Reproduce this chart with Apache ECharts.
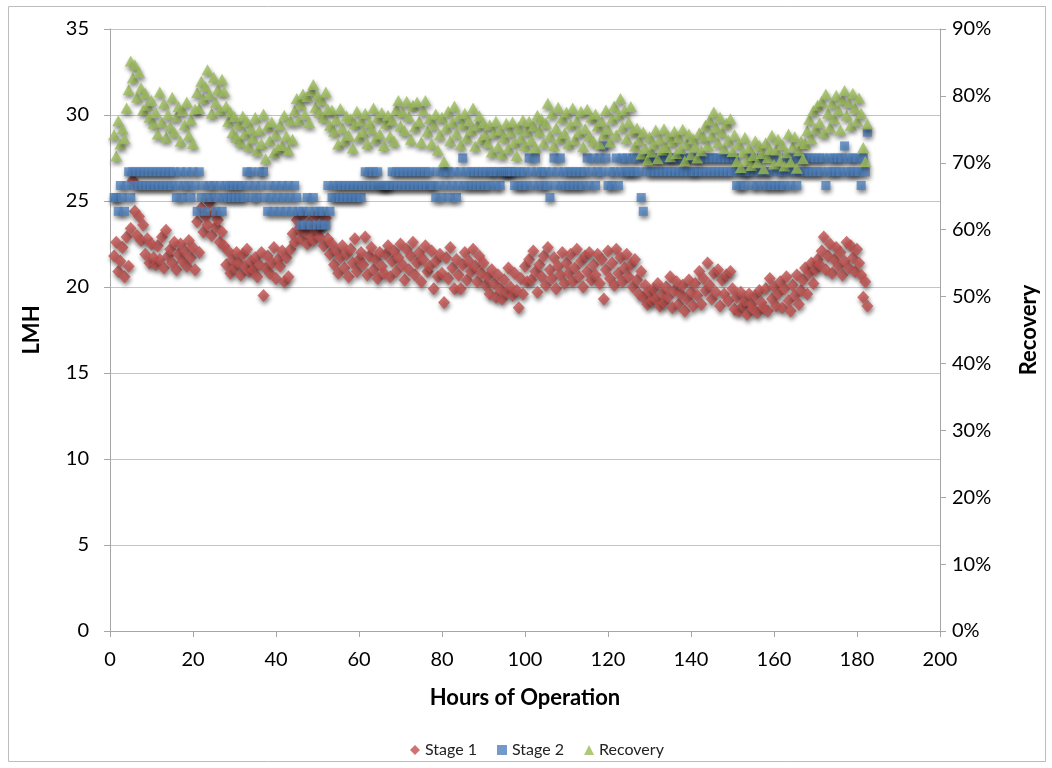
<!DOCTYPE html>
<html>
<head>
<meta charset="utf-8">
<script src="https://cdn.jsdelivr.net/npm/echarts@6/dist/echarts.min.js"></script>
<style>
html,body{margin:0;padding:0;background:#fff;}
#c{width:1052px;height:768px;}
</style>
</head>
<body>
<div id="c"></div>
<script>
// Sampling grid: readings every half hour starting at hour 1
const hourStart = 1;
const hourStep = 0.5;

// Stage 1 flux (LMH)
const stage1 = [
  21.8,22.6,20.9,21.5,22.3,20.6,22.9,21.2,23.4,26.2,24.4,23.0,24.1,22.7,23.6,21.9,22.8,21.4,22.5,21.7,
  21.3,22.4,21.6,22.9,21.1,23.3,21.8,22.2,21.4,22.6,21.0,21.9,22.5,21.5,22.1,21.2,22.7,21.7,22.3,21.0,
  23.8,22.0,24.6,23.2,24.1,23.6,24.9,23.0,24.3,23.5,23.9,22.6,23.2,22.4,21.3,22.1,20.8,21.6,21.1,22.0,
  21.4,20.7,21.9,21.2,22.2,20.9,21.5,21.0,21.7,20.6,21.3,22.0,19.5,21.1,21.8,20.8,21.4,22.3,20.5,21.6,
  21.2,22.1,20.3,21.7,20.6,22.2,23.1,22.6,23.9,23.4,22.8,24.2,23.2,22.5,23.7,23.0,22.7,24.1,23.3,22.9,
  23.6,22.4,24.0,22.8,21.9,22.5,21.3,22.1,20.8,21.7,22.4,21.1,21.9,20.6,22.2,21.4,22.8,20.9,21.6,22.0,
  21.3,22.9,20.7,21.8,22.3,21.0,21.6,20.5,22.0,21.2,20.8,21.9,22.4,20.6,21.5,22.1,20.9,21.7,22.5,21.3,
  20.4,22.2,21.0,21.8,22.6,20.7,21.4,22.0,20.3,21.6,22.4,20.9,21.2,22.1,19.9,21.5,20.6,21.9,20.8,19.1,
  21.7,20.5,22.3,21.1,19.9,21.6,20.7,19.9,21.3,22.0,20.4,21.5,20.9,22.2,21.2,20.3,21.8,20.8,21.4,20.1,
  20.6,19.6,21.0,20.2,19.4,20.7,19.9,19.3,20.4,19.7,21.1,20.0,19.5,20.8,19.8,18.8,20.5,19.6,21.2,20.3,
  21.6,20.4,22.1,20.9,19.7,21.3,20.6,21.8,20.1,22.3,21.0,20.5,21.7,19.9,21.2,20.7,22.0,20.2,21.4,20.8,
  21.9,20.3,21.1,22.2,20.6,21.5,20.0,21.8,20.9,22.0,20.4,21.3,20.7,21.9,20.2,21.6,19.3,21.0,22.1,20.5,
  21.4,20.1,22.2,20.8,21.7,20.3,21.1,21.9,20.6,21.3,20.0,21.6,20.4,19.6,20.9,19.4,20.1,19.0,19.7,19.2,
  19.9,19.3,20.2,18.9,19.6,19.1,20.0,19.4,20.6,18.8,19.8,20.3,19.0,19.6,20.1,18.6,19.3,20.4,19.7,18.9,
  20.2,19.5,20.9,19.0,20.5,19.8,21.4,20.1,19.3,20.8,19.7,21.0,18.9,20.4,19.6,20.7,19.2,20.9,19.9,18.7,
  19.4,18.6,19.7,18.9,19.2,18.4,19.6,19.0,18.7,19.5,18.5,19.8,19.1,18.8,19.9,18.6,20.5,19.3,20.0,18.9,
  19.6,20.3,18.8,19.9,20.6,19.2,18.6,20.1,19.5,20.7,19.0,19.8,20.4,21.1,19.6,20.8,21.4,20.2,21.0,21.6,
  21.3,22.1,22.9,21.0,21.8,22.5,20.8,21.6,22.3,21.2,22.0,20.7,21.5,22.6,21.1,22.4,21.7,20.9,22.2,21.4,
  20.7,19.4,20.3,18.9
];

// Stage 2 flux (LMH)
const stage2 = [
  25.2,25.2,24.4,25.9,25.2,24.4,25.9,26.7,25.2,26.7,25.9,26.7,25.9,26.7,25.9,26.7,25.9,26.7,25.9,26.7,
  25.9,26.7,25.9,26.7,25.9,26.7,25.9,26.7,25.9,26.7,25.2,25.9,26.7,25.2,25.9,26.7,25.9,25.2,26.7,25.9,
  24.4,26.7,25.2,25.9,24.4,25.2,25.9,25.2,25.9,24.4,25.2,25.9,24.4,25.2,25.9,25.2,25.9,25.2,25.9,25.2,
  25.9,25.2,25.9,25.2,26.7,25.9,26.7,25.2,25.9,25.2,26.7,25.9,26.7,25.2,24.4,25.9,25.2,24.4,25.9,25.2,
  24.4,25.9,25.2,24.4,25.9,25.2,24.4,25.9,25.2,24.4,23.6,24.4,23.6,25.2,24.4,23.6,25.2,24.4,23.6,24.4,
  23.6,24.4,23.6,25.9,24.4,25.2,25.9,25.2,25.9,25.2,25.9,25.2,25.9,25.2,25.9,25.2,25.9,25.2,25.9,25.2,
  25.9,26.7,25.9,26.7,25.9,26.7,25.9,26.7,25.9,25.9,25.9,25.9,25.9,25.9,26.7,25.9,26.7,25.9,26.7,25.9,
  26.7,25.9,26.7,25.9,26.7,25.9,26.7,25.9,26.7,25.9,26.7,25.9,26.7,25.9,25.9,25.2,26.7,25.9,25.2,26.7,
  25.9,26.7,25.2,25.9,26.7,25.2,25.9,26.7,27.5,25.9,26.7,25.9,26.7,25.9,26.7,25.9,26.7,25.9,26.7,25.9,
  26.7,25.9,26.7,26.7,25.9,26.7,25.9,26.7,26.7,26.7,26.7,26.7,26.7,25.9,26.7,25.9,26.7,25.9,26.7,25.9,
  27.5,26.7,25.9,27.5,26.7,25.9,26.7,25.9,26.7,25.9,25.2,26.7,27.5,25.9,26.7,27.5,25.9,26.7,25.9,26.7,
  25.9,26.7,25.9,26.7,25.9,26.7,25.9,26.7,27.5,25.9,26.7,27.5,25.9,26.7,27.5,26.7,28.2,27.5,25.9,26.7,
  25.9,26.7,27.5,25.9,26.7,27.5,26.7,27.5,26.7,26.7,27.5,26.7,27.5,26.7,25.2,24.4,27.5,26.7,27.5,26.7,
  27.5,26.7,27.5,26.7,27.5,26.7,27.5,26.7,27.5,26.7,27.5,26.7,27.5,26.7,27.5,26.7,27.5,26.7,27.5,26.7,
  26.7,27.5,26.7,27.5,26.7,27.5,26.7,27.5,26.7,27.5,26.7,27.5,26.7,27.5,26.7,27.5,26.7,27.5,26.7,27.5,
  25.9,26.7,25.9,26.7,25.9,26.7,26.7,27.5,25.9,26.7,25.9,26.7,27.5,25.9,26.7,25.9,26.7,25.9,27.5,25.9,
  26.7,25.9,26.7,25.9,27.5,26.7,25.9,27.5,26.7,25.9,27.5,26.7,27.5,26.7,27.5,26.7,27.5,26.7,27.5,26.7,
  27.5,26.7,27.5,25.9,26.7,27.5,26.7,27.5,26.7,27.5,26.7,27.5,28.2,26.7,27.5,26.7,27.5,26.7,27.5,26.7,
  25.9,27.5,26.7,29.0
];

// Recovery (%)
const recovery = [
  74.2,71.0,76.3,72.8,75.1,73.6,78.2,80.9,85.2,82.7,84.6,79.8,83.5,81.2,77.9,80.4,78.6,76.8,79.3,75.9,
  77.5,74.3,80.6,76.1,78.9,73.8,77.2,75.4,79.8,74.6,76.9,78.4,73.2,77.8,75.7,79.1,74.1,76.5,72.9,78.0,
  80.5,78.1,82.2,79.6,81.4,83.9,80.2,77.4,82.8,79.0,81.0,77.9,82.5,80.7,78.5,76.2,77.6,74.5,76.9,73.8,
  75.8,73.1,77.0,74.4,76.2,72.5,75.1,73.7,76.8,71.8,74.9,72.9,77.3,70.6,75.5,73.4,76.1,71.5,74.3,72.2,
  75.7,72.6,77.1,74.0,71.9,76.3,73.5,77.8,79.6,76.4,78.8,80.3,77.2,79.9,76.0,80.8,81.7,78.3,80.1,77.5,
  79.4,76.8,80.6,78.0,75.6,77.9,74.7,76.5,72.8,78.1,75.2,73.4,77.0,74.1,76.6,72.2,75.8,77.7,73.9,76.3,
  74.6,77.4,72.9,76.0,75.1,78.2,73.6,76.8,74.3,77.5,72.6,75.9,77.1,74.0,76.4,73.2,78.0,79.3,75.5,77.6,
  74.8,79.2,76.9,73.5,78.6,75.4,79.1,76.2,73.1,77.8,79.3,74.7,76.6,72.9,75.7,77.3,71.9,74.2,76.8,70.2,
  75.3,77.7,73.3,76.1,78.5,74.4,76.9,72.7,75.8,77.4,73.8,76.3,74.9,78.2,72.5,75.6,77.0,73.6,76.0,74.2,
  73.0,75.7,71.6,74.5,76.2,72.4,74.9,71.3,73.8,75.9,72.2,74.6,76.1,73.1,71.1,75.3,73.7,76.4,72.6,74.8,
  76.2,73.4,75.5,72.3,77.1,74.7,76.5,73.0,75.9,78.9,74.1,77.4,72.6,75.2,78.3,73.7,76.7,74.4,77.6,72.9,
  75.8,78.2,73.5,76.3,74.6,77.7,72.4,75.1,78.0,74.0,76.8,73.2,77.3,75.5,72.8,76.2,74.3,77.9,75.0,73.1,
  76.6,78.5,74.2,77.3,79.6,75.4,77.9,73.6,76.1,78.4,74.8,72.5,75.2,73.4,71.3,74.6,72.1,70.4,73.9,71.6,
  72.8,74.9,70.6,73.5,71.9,75.1,72.3,74.0,70.9,73.2,74.7,71.4,73.8,72.1,75.0,70.3,72.9,74.3,71.2,73.6,
  72.4,70.7,74.5,71.8,73.9,75.6,72.6,76.4,74.1,77.6,75.3,73.0,76.8,74.6,72.1,75.9,73.4,76.6,71.7,74.2,
  70.2,72.9,69.3,71.6,73.8,70.5,72.2,69.6,71.1,73.3,70.0,72.6,71.4,69.1,73.0,70.8,72.0,74.1,69.8,71.9,
  73.5,70.3,72.7,69.5,71.5,74.3,70.1,72.4,73.9,69.2,71.8,73.2,70.6,72.9,74.8,76.5,73.6,77.8,75.1,78.6,
  76.0,79.2,74.5,80.3,77.4,75.3,78.9,76.6,80.1,77.9,74.9,79.5,80.8,77.1,79.0,75.6,80.4,78.2,76.3,79.7,
  77.4,72.3,70.2,75.8
];

const seriesNames = ['Stage 1', 'Stage 2', 'Recovery'];
const xAxisTitle = 'Hours of Operation';
const leftAxisTitle = 'LMH';
const rightAxisTitle = 'Recovery';

const FONT = 'Lato, "Open Sans", sans-serif';
const AXIS_COLOR = '#a6a6a6';
const GRID_COLOR = '#c4c4c4';

function toPairs(vals) {
  return vals.map((v, i) => [hourStart + i * hourStep, v]);
}

const shadow = {
  shadowColor: 'rgba(0,0,0,0.6)',
  shadowBlur: 4,
  shadowOffsetX: 1,
  shadowOffsetY: 3
};

const chart = echarts.init(document.getElementById('c'), null, {renderer: 'canvas'});
chart.setOption({
  animation: false,
  backgroundColor: '#fff',
  textStyle: {fontFamily: FONT},
  graphic: [{
    type: 'rect',
    silent: true,
    z: -10,
    shape: {x: 8.5, y: 6.5, width: 1037, height: 755},
    style: {fill: 'none', stroke: '#bcbcbc', lineWidth: 1}
  }],
  grid: {left: 110, right: 112, top: 29, bottom: 137, containLabel: false},
  legend: {
    data: seriesNames,
    top: 737,
    left: 405,
    itemWidth: 10,
    itemHeight: 10,
    itemGap: 20,
    textStyle: {fontFamily: FONT, fontSize: 16, color: '#222'}
  },
  xAxis: {
    type: 'value',
    min: 0, max: 200, interval: 20,
    name: xAxisTitle,
    nameLocation: 'middle',
    nameGap: 56,
    nameTextStyle: {fontFamily: FONT, fontSize: 22, fontWeight: 'bold', color: '#000'},
    axisLine: {show: true, lineStyle: {color: AXIS_COLOR, width: 1}},
    axisTick: {show: true, inside: false, length: 6, lineStyle: {color: AXIS_COLOR}},
    axisLabel: {fontFamily: FONT, fontSize: 20, color: '#000', margin: 19},
    splitLine: {show: false}
  },
  yAxis: [{
    type: 'value',
    position: 'left',
    min: 0, max: 35, interval: 5,
    name: leftAxisTitle,
    nameLocation: 'middle',
    nameGap: 67,
    nameRotate: 90,
    nameTextStyle: {fontFamily: FONT, fontSize: 22, fontWeight: 'bold', color: '#000'},
    axisLine: {show: true, lineStyle: {color: AXIS_COLOR, width: 1}},
    axisTick: {show: true, inside: false, length: 6, lineStyle: {color: AXIS_COLOR}},
    axisLabel: {fontFamily: FONT, fontSize: 20, color: '#000', margin: 21},
    splitLine: {show: true, lineStyle: {color: GRID_COLOR, width: 1}}
  }, {
    type: 'value',
    position: 'right',
    min: 0, max: 90, interval: 10,
    name: rightAxisTitle,
    nameLocation: 'middle',
    nameGap: 78,
    nameRotate: 90,
    nameTextStyle: {fontFamily: FONT, fontSize: 22, fontWeight: 'bold', color: '#000'},
    axisLine: {show: true, lineStyle: {color: AXIS_COLOR, width: 1}},
    axisTick: {show: true, inside: false, length: 6, lineStyle: {color: AXIS_COLOR}},
    axisLabel: {fontFamily: FONT, fontSize: 20, color: '#000', margin: 12, formatter: '{value}%'},
    splitLine: {show: false}
  }],
  series: [{
    name: seriesNames[0],
    type: 'scatter',
    yAxisIndex: 0,
    symbol: 'diamond',
    symbolSize: [12, 13],
    itemStyle: Object.assign({color: '#C0504D'}, shadow),
    data: toPairs(stage1)
  }, {
    name: seriesNames[1],
    type: 'scatter',
    yAxisIndex: 0,
    symbol: 'rect',
    symbolSize: 9,
    itemStyle: Object.assign({color: '#4F81BD'}, shadow),
    data: toPairs(stage2)
  }, {
    name: seriesNames[2],
    type: 'scatter',
    yAxisIndex: 1,
    symbol: 'triangle',
    symbolSize: [12, 11],
    itemStyle: Object.assign({color: '#9BBB59'}, shadow),
    data: toPairs(recovery)
  }]
});
</script>
</body>
</html>
